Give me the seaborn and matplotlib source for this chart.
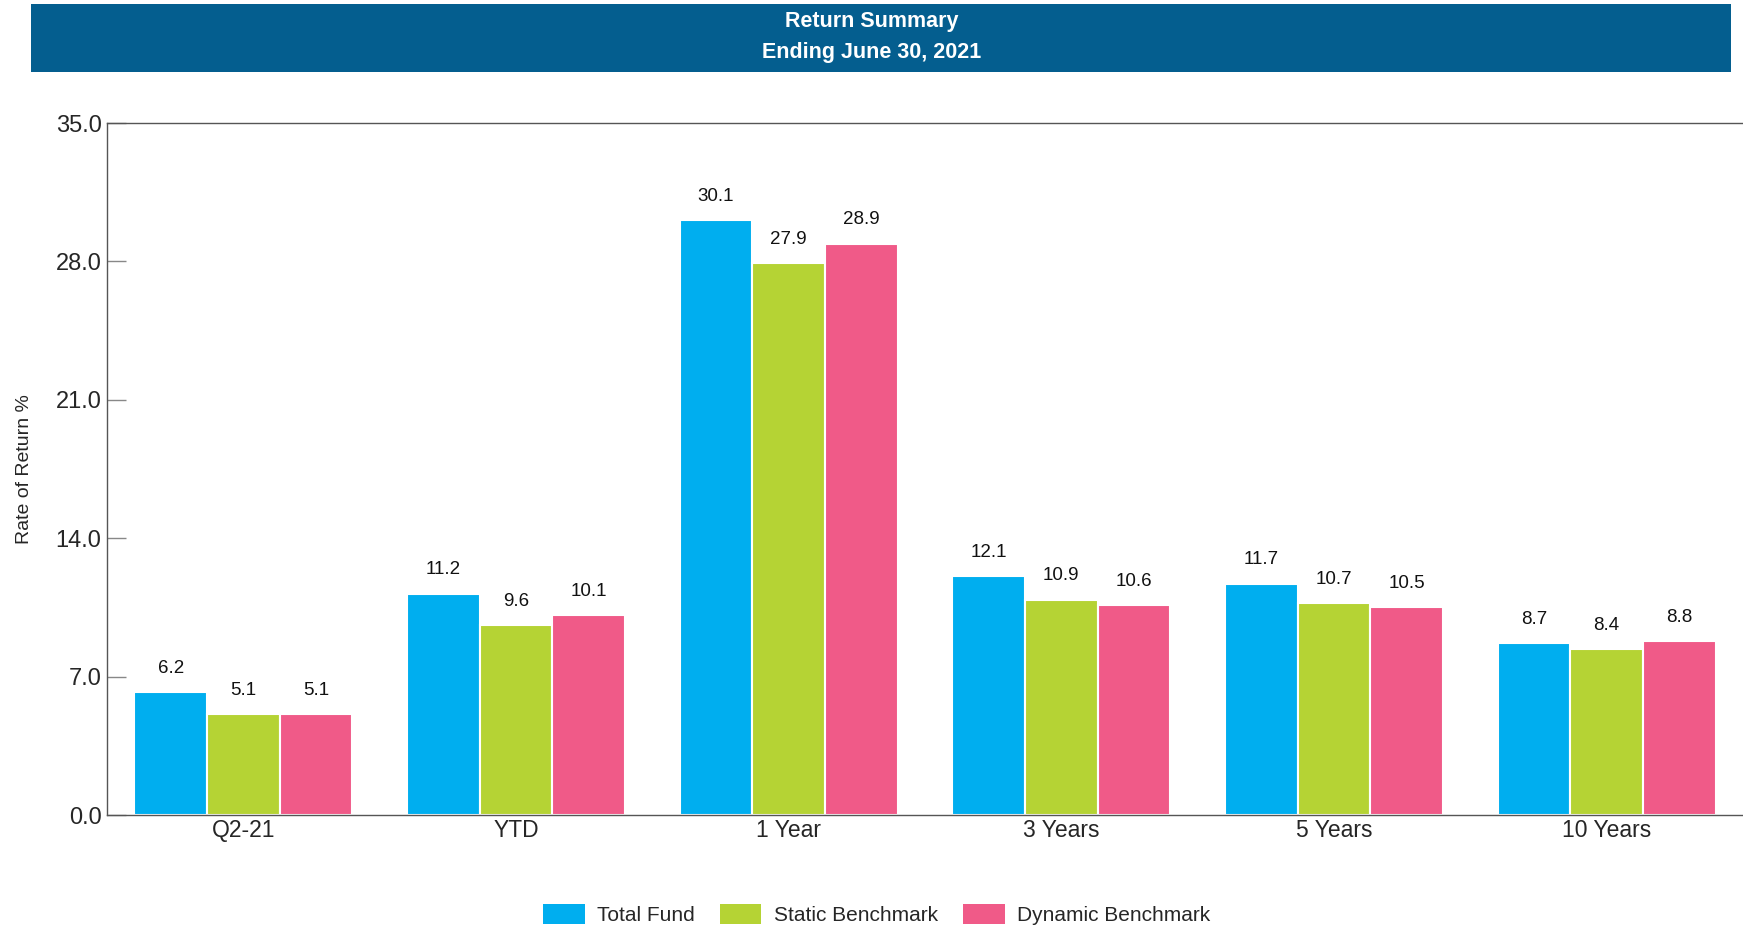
import pandas as pd
import matplotlib.pyplot as plt
import seaborn as sns
from matplotlib.patches import Rectangle

# data
periods = ['Q2-21', 'YTD', '1 Year', '3 Years', '5 Years', '10 Years']
total_fund = [6.2, 11.2, 30.1, 12.1, 11.7, 8.7]
static_bm = [5.1, 9.6, 27.9, 10.9, 10.7, 8.4]
dynamic_bm = [5.1, 10.1, 28.9, 10.6, 10.5, 8.8]
series_names = ['Total Fund', 'Static Benchmark', 'Dynamic Benchmark']
series_colors = ['#00AEEF', '#B5D334', '#F05A88']
y_ticks = [0.0, 7.0, 14.0, 21.0, 28.0, 35.0]

rows = []
for name, vals in zip(series_names, [total_fund, static_bm, dynamic_bm]):
    for p, v in zip(periods, vals):
        rows.append({'period': p, 'series': name, 'value': v})
df = pd.DataFrame(rows)

sns.set_style('white')
plt.rcParams['font.family'] = ['Liberation Sans', 'DejaVu Sans']

fig = plt.figure(figsize=(17.43, 9.27), dpi=100)
ax = fig.add_axes([0.0614, 0.1208, 0.9386, 0.7465])

sns.barplot(data=df, x='period', y='value', hue='series', order=periods,
            hue_order=series_names, palette=series_colors, width=0.8,
            edgecolor='white', linewidth=1.5, saturation=1, ax=ax)

for container in ax.containers:
    ax.bar_label(container, fmt='%.1f', padding=11, fontsize=13.5, color='#111111')

ax.set_xlim(-0.5, 5.5)
ax.set_ylim(0, 35)
ax.set_yticks(y_ticks)
ax.set_yticklabels([f'{t:.1f}' for t in y_ticks], fontsize=17)
ax.tick_params(axis='y', direction='in', length=14, width=1, color='#888888', pad=4, left=True)
ax.tick_params(axis='x', length=0, labelsize=16.5, pad=3)
ax.set_xlabel('')
ax.set_ylabel('Rate of Return %', fontsize=14, labelpad=16)

for side in ['left', 'top', 'bottom']:
    ax.spines[side].set_color('#555555')
    ax.spines[side].set_linewidth(1)
ax.spines['right'].set_visible(False)

ax.legend_.remove()
handles = [Rectangle((0, 0), 1, 1, facecolor=c, edgecolor='none') for c in series_colors]
fig.legend(handles, series_names, loc='lower center', bbox_to_anchor=(0.503, -0.018),
           ncol=3, frameon=False, fontsize=15, handlelength=2.0, handleheight=1.1,
           columnspacing=1.2, handletextpad=0.6)

# title banner
fig.patches.append(Rectangle((0.0178, 0.9223), 0.9752, 0.0734, transform=fig.transFigure,
                             facecolor='#045E8F', edgecolor='none', zorder=0))
fig.text(0.5, 0.977, 'Return Summary', ha='center', va='center', color='white',
         fontsize=15.5, fontweight='bold')
fig.text(0.5, 0.943, 'Ending June 30, 2021', ha='center', va='center', color='white',
         fontsize=15.5, fontweight='bold')

fig.savefig('out.png', dpi=100)
plt.close(fig)
